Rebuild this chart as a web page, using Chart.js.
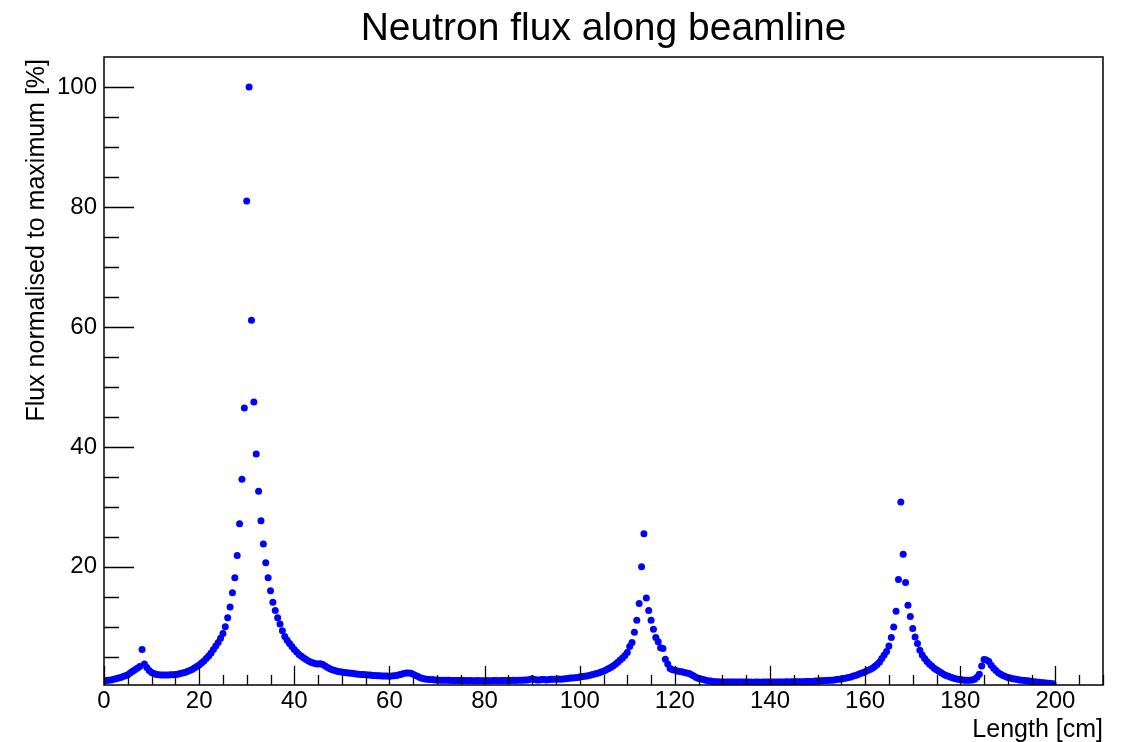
<!DOCTYPE html>
<html>
<head>
<meta charset="utf-8">
<title>Neutron flux along beamline</title>
<script src="https://cdn.jsdelivr.net/npm/chart.js@4.4.1/dist/chart.umd.min.js"></script>
<style>
  html, body { margin: 0; padding: 0; background: #fff; }
  #wrap { width: 1125px; height: 742px; }
</style>
</head>
<body>
<div id="wrap"><canvas id="fluxChart" width="1125" height="742"></canvas></div>
<script>
"use strict";

// sampling of the beamline: one point every half centimetre, starting at 0
const LENGTH_START = 0;
const LENGTH_STEP = 0.5;

// flux normalised to maximum [%], 10 points per line (5 cm)
const fluxPercent = [
  1.00, 1.05, 1.10, 1.15, 1.25, 1.35, 1.45, 1.55, 1.70, 1.85,   // 0
  2.00, 2.30, 2.60, 2.85, 3.10, 3.40, 6.20, 3.80, 3.20, 2.70,   // 5
  2.40, 2.20, 2.05, 2.00, 1.95, 1.95, 1.95, 1.95, 2.00, 2.00,   // 10
  2.05, 2.10, 2.20, 2.30, 2.40, 2.55, 2.70, 2.90, 3.15, 3.40,   // 15
  3.65, 3.95, 4.30, 4.70, 5.15, 5.65, 6.20, 6.80, 7.40, 8.10,   // 20
  8.90, 10.0, 11.5, 13.3, 15.7, 18.2, 21.9, 27.2, 34.6, 46.5,   // 25
  81.0, 100,  61.1, 47.5, 38.8, 32.6, 27.7, 23.8, 20.7, 18.2,   // 30
  16.0, 14.1, 12.7, 11.5, 10.45, 9.35, 8.40, 7.75, 7.20, 6.70,  // 35
  6.20, 5.80, 5.40, 5.10, 4.80, 4.55, 4.30, 4.10, 3.95, 3.85,   // 40
  3.80, 3.85, 3.70, 3.45, 3.20, 3.00, 2.85, 2.70, 2.60, 2.50,   // 45
  2.45, 2.40, 2.35, 2.30, 2.25, 2.20, 2.15, 2.10, 2.05, 2.05,   // 50
  2.00, 1.95, 1.95, 1.90, 1.90, 1.85, 1.85, 1.80, 1.80, 1.80,   // 55
  1.75, 1.80, 1.85, 1.90, 2.00, 2.10, 2.20, 2.30, 2.30, 2.25,   // 60
  2.10, 1.90, 1.70, 1.50, 1.40, 1.30, 1.25, 1.20, 1.20, 1.15,   // 65
  1.15, 1.10, 1.10, 1.10, 1.10, 1.10, 1.05, 1.05, 1.05, 1.05,   // 70
  1.05, 1.05, 1.05, 1.00, 1.05, 1.00, 1.00, 1.05, 1.00, 1.00,   // 75
  1.00, 1.05, 1.00, 1.00, 1.05, 1.05, 1.00, 1.05, 1.05, 1.05,   // 80
  1.05, 1.05, 1.10, 1.05, 1.10, 1.10, 1.10, 1.15, 1.15, 1.20,   // 85
  1.35, 1.20, 1.15, 1.15, 1.20, 1.20, 1.15, 1.20, 1.25, 1.25,   // 90
  1.25, 1.30, 1.25, 1.30, 1.35, 1.40, 1.45, 1.45, 1.50, 1.55,   // 95
  1.65, 1.70, 1.75, 1.80, 1.90, 2.00, 2.10, 2.20, 2.30, 2.45,   // 100
  2.60, 2.80, 3.00, 3.20, 3.45, 3.75, 4.10, 4.45, 4.80, 5.20,   // 105
  5.70, 6.70, 7.40, 9.10, 11.1, 13.9, 20.0, 25.5, 14.8, 12.7,   // 110
  11.1, 9.60, 8.20, 7.50, 6.50, 6.40, 4.60, 3.80, 3.05, 2.85,   // 115
  2.75, 2.65, 2.55, 2.50, 2.40, 2.30, 2.20, 2.00, 1.80, 1.55,   // 120
  1.40, 1.30, 1.20, 1.10, 1.00, 0.95, 0.90, 0.85, 0.85, 0.80,   // 125
  0.80, 0.80, 0.80, 0.80, 0.80, 0.80, 0.80, 0.80, 0.80, 0.80,   // 130
  0.80, 0.80, 0.80, 0.75, 0.80, 0.80, 0.75, 0.80, 0.80, 0.80,   // 135
  0.80, 0.80, 0.80, 0.80, 0.80, 0.80, 0.80, 0.85, 0.80, 0.85,   // 140
  0.85, 0.85, 0.85, 0.85, 0.85, 0.90, 0.90, 0.90, 0.90, 0.95,   // 145
  0.95, 1.00, 1.00, 1.05, 1.05, 1.10, 1.10, 1.15, 1.20, 1.25,   // 150
  1.30, 1.40, 1.45, 1.55, 1.65, 1.80, 1.90, 2.05, 2.20, 2.35,   // 155
  2.50, 2.70, 2.90, 3.10, 3.40, 3.70, 4.10, 4.70, 5.30, 5.90,   // 160
  6.80, 8.20, 9.95, 12.6, 17.9, 30.8, 22.1, 17.4, 13.6, 11.7,   // 165
  9.70, 8.30, 7.20, 6.10, 5.30, 4.70, 4.20, 3.80, 3.45, 3.10,   // 170
  2.85, 2.60, 2.35, 2.10, 1.90, 1.75, 1.60, 1.45, 1.35, 1.25,   // 175
  1.20, 1.15, 1.10, 1.10, 1.10, 1.15, 1.25, 1.60, 2.10, 3.45,   // 180
  4.55, 4.45, 4.20, 3.60, 3.10, 2.70, 2.35, 2.10, 1.90, 1.70,   // 185
  1.55, 1.45, 1.35, 1.30, 1.20, 1.15, 1.10, 1.05, 1.00, 0.95,   // 190
  0.90, 0.85, 0.80, 0.75, 0.70, 0.68, 0.65, 0.60, 0.55, 0.50    // 195
];

// axis ranges and tick spacing (ROOT style: 4 minor divisions per major)
const X_RANGE = [0, 210];
const Y_RANGE = [0.3, 105];
const MAJOR_STEP = 20;
const MINOR_STEP = 5;

const TITLE = 'Neutron flux along beamline';
const X_TITLE = 'Length [cm]';
const Y_TITLE = 'Flux normalised to maximum [%]';

const FONT = '"Liberation Sans", Arial, Helvetica, sans-serif';

const points = fluxPercent.map((v, i) => ({ x: LENGTH_START + i * LENGTH_STEP, y: v }));

// frame, inward ticks and titles drawn on top like ROOT does
const rootFrame = {
  id: 'rootFrame',
  afterDraw(chart) {
    const { ctx, chartArea: a, scales: { x, y } } = chart;
    ctx.save();
    ctx.strokeStyle = '#000';
    ctx.lineWidth = 1.5;
    ctx.strokeRect(a.left, a.top, a.right - a.left, a.bottom - a.top);

    ctx.beginPath();
    for (let v = X_RANGE[0]; v <= X_RANGE[1]; v += MINOR_STEP) {
      const px = Math.round(x.getPixelForValue(v)) + 0.5;
      const len = v % MAJOR_STEP === 0 ? 19 : 10;
      ctx.moveTo(px, a.bottom);
      ctx.lineTo(px, a.bottom - len);
    }
    for (let v = MINOR_STEP; v < Y_RANGE[1]; v += MINOR_STEP) {
      const py = Math.round(y.getPixelForValue(v)) + 0.5;
      const len = v % MAJOR_STEP === 0 ? 30 : 15;
      ctx.moveTo(a.left, py);
      ctx.lineTo(a.left + len, py);
    }
    ctx.lineWidth = 1.3;
    ctx.stroke();

    ctx.fillStyle = '#000';
    ctx.font = '39px ' + FONT;
    ctx.textAlign = 'center';
    ctx.textBaseline = 'alphabetic';
    ctx.fillText(TITLE, (a.left + a.right) / 2, 40);

    ctx.font = '25px ' + FONT;
    ctx.textAlign = 'right';
    ctx.fillText(X_TITLE, a.right, 737);

    ctx.translate(44, a.top + 2);
    ctx.rotate(-Math.PI / 2);
    ctx.textAlign = 'right';
    ctx.fillText(Y_TITLE, 0, 0);
    ctx.restore();
  }
};

new Chart(document.getElementById('fluxChart').getContext('2d'), {
  type: 'scatter',
  data: {
    datasets: [{
      label: 'flux',
      data: points,
      showLine: false,
      pointRadius: 3.5,
      pointHoverRadius: 3.5,
      pointBorderWidth: 0,
      pointBackgroundColor: '#0000ff',
      pointBorderColor: '#0000ff'
    }]
  },
  options: {
    responsive: false,
    animation: false,
    devicePixelRatio: 1,
    layout: { padding: { top: 57, right: 22, left: 0, bottom: 0 } },
    plugins: {
      legend: { display: false },
      tooltip: { enabled: false },
      title: { display: false }
    },
    scales: {
      x: {
        type: 'linear',
        min: X_RANGE[0],
        max: X_RANGE[1],
        grid: { display: false, drawTicks: false },
        border: { display: false },
        ticks: {
          stepSize: MAJOR_STEP,
          includeBounds: false,
          padding: 2,
          color: '#000',
          font: { family: FONT, size: 24 },
          maxRotation: 0,
          autoSkip: false
        },
        afterFit(scale) { scale.height = 57; }
      },
      y: {
        type: 'linear',
        min: Y_RANGE[0],
        max: Y_RANGE[1],
        grid: { display: false, drawTicks: false },
        border: { display: false },
        ticks: {
          stepSize: MAJOR_STEP,
          includeBounds: false,
          padding: 7,
          color: '#000',
          font: { family: FONT, size: 24 },
          autoSkip: false,
          callback: (v) => (v % MAJOR_STEP === 0 && v > 0 ? String(v) : '')
        },
        afterFit(scale) { scale.width = 104; }
      }
    }
  },
  plugins: [rootFrame]
});
</script>
</body>
</html>
